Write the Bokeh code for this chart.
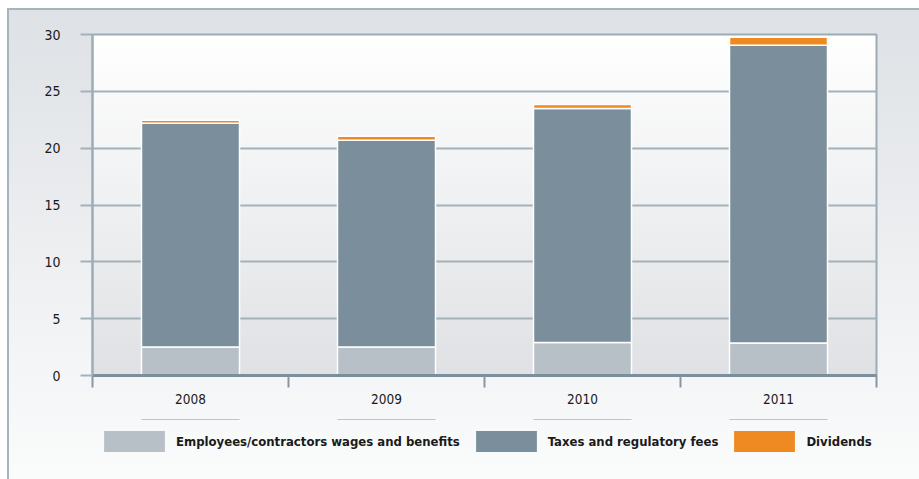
from bokeh.plotting import figure
from bokeh.layouts import column
from bokeh.models import Range1d, FixedTicker, Legend, LegendItem, ColumnDataSource
from bokeh.embed import file_html
from bokeh.resources import INLINE

years = ["2008", "2009", "2010", "2011"]
employees = [2.5, 2.5, 2.9, 2.85]
taxes = [19.7, 18.2, 20.6, 26.2]
dividends = [0.25, 0.35, 0.35, 0.7]
series_names = ["Employees/contractors wages and benefits", "Taxes and regulatory fees", "Dividends"]
series_colors = ["#b7bfc7", "#7a8f9b", "#ee8a21"]
y_ticks = [0, 5, 10, 15, 20, 25, 30]

xpos = [i + 0.5 for i in range(len(years))]
src = ColumnDataSource(dict(x=xpos, emp=employees, tax=taxes, div=dividends))
stack_cols = ["emp", "tax", "div"]

p = figure(width=919, height=419, output_backend="svg", toolbar_location=None,
           x_range=Range1d(0, len(years)), y_range=Range1d(0, max(y_ticks)),
           min_border_left=92, min_border_right=43, min_border_top=34, min_border_bottom=44)
p.border_fill_color = None
p.background_fill_color = None

p.vbar_stack(stack_cols, x="x", width=0.5, source=src,
             fill_color=series_colors, line_color="white", line_width=1.5)

font = "DejaVu Sans Condensed"
grid_c = "#a3b1bb"

# x axis: labels at bar centres, tick marks at category boundaries
p.xaxis.ticker = FixedTicker(ticks=xpos, minor_ticks=list(range(len(years) + 1)))
p.xaxis.major_label_overrides = {x: y for x, y in zip(xpos, years)}
p.xaxis.major_tick_out = 0
p.xaxis.major_tick_in = 0
p.xaxis.minor_tick_out = 12
p.xaxis.minor_tick_in = 0
p.xaxis.minor_tick_line_color = "#8797a3"
p.xaxis.minor_tick_line_width = 2
p.xaxis.axis_line_color = "#7b8e9a"
p.xaxis.axis_line_width = 3
p.xaxis.major_label_standoff = 6
p.xaxis.major_label_text_font = font
p.xaxis.major_label_text_font_size = "13.5px"
p.xaxis.major_label_text_color = "#1a1a1a"

# y axis
p.yaxis.ticker = FixedTicker(ticks=y_ticks)
p.yaxis.axis_line_color = "#9cacb7"
p.yaxis.axis_line_width = 2
p.yaxis.major_tick_out = 12
p.yaxis.major_tick_in = 0
p.yaxis.major_tick_line_color = grid_c
p.yaxis.major_tick_line_width = 2
p.yaxis.minor_tick_line_color = None
p.yaxis.major_label_standoff = 20
p.yaxis.major_label_text_font = font
p.yaxis.major_label_text_font_size = "14px"
p.yaxis.major_label_text_color = "#1a1a1a"

p.xgrid.visible = False
p.ygrid.ticker = FixedTicker(ticks=y_ticks)
p.ygrid.grid_line_color = grid_c
p.ygrid.grid_line_width = 2

p.outline_line_color = "#9cacb7"
p.outline_line_width = 2

# legend strip: a second figure whose (off-range) bars only feed the legend swatches
lf = figure(width=919, height=60, output_backend="svg", toolbar_location=None,
            x_range=Range1d(0, len(years)), y_range=Range1d(-2, -1),
            x_axis_location=None, y_axis_location=None,
            min_border_left=0, min_border_right=0, min_border_top=0, min_border_bottom=0)
lf.border_fill_color = None
lf.background_fill_color = None
lf.outline_line_color = None
lf.grid.visible = False
leg_renderers = lf.vbar_stack(stack_cols, x="x", width=0.5, source=src,
                              fill_color=series_colors, line_color=None)

legend = Legend(
    items=[LegendItem(label=n, renderers=[r]) for n, r in zip(series_names, leg_renderers)],
    orientation="horizontal", location=(4, 25),
    glyph_width=76, glyph_height=26, label_height=26, label_standoff=4, spacing=8,
    padding=0, margin=0, background_fill_alpha=0, border_line_color=None,
    label_text_font=font, label_text_font_style="bold", label_text_font_size="13px",
    label_text_color="#1a1a1a",
)
lf.add_layout(legend)

layout = column(p, lf, spacing=0)
layout.styles = {
    "background": (
        "linear-gradient(#ffffff, #dfe1e4) 92px 34px / 784px 341px no-repeat, "
        "linear-gradient(#a6b4be, #a6b4be) 7px 8px / 2px 100% no-repeat, "
        "linear-gradient(#a6b4be, #a6b4be) 7px 8px / 100% 2px no-repeat, "
        "linear-gradient(#dee1e5, #fbfcfc) 7px 8px / 100% 100% no-repeat, #ffffff"
    ),
}

open("out.html", "w").write(file_html(layout, INLINE))
